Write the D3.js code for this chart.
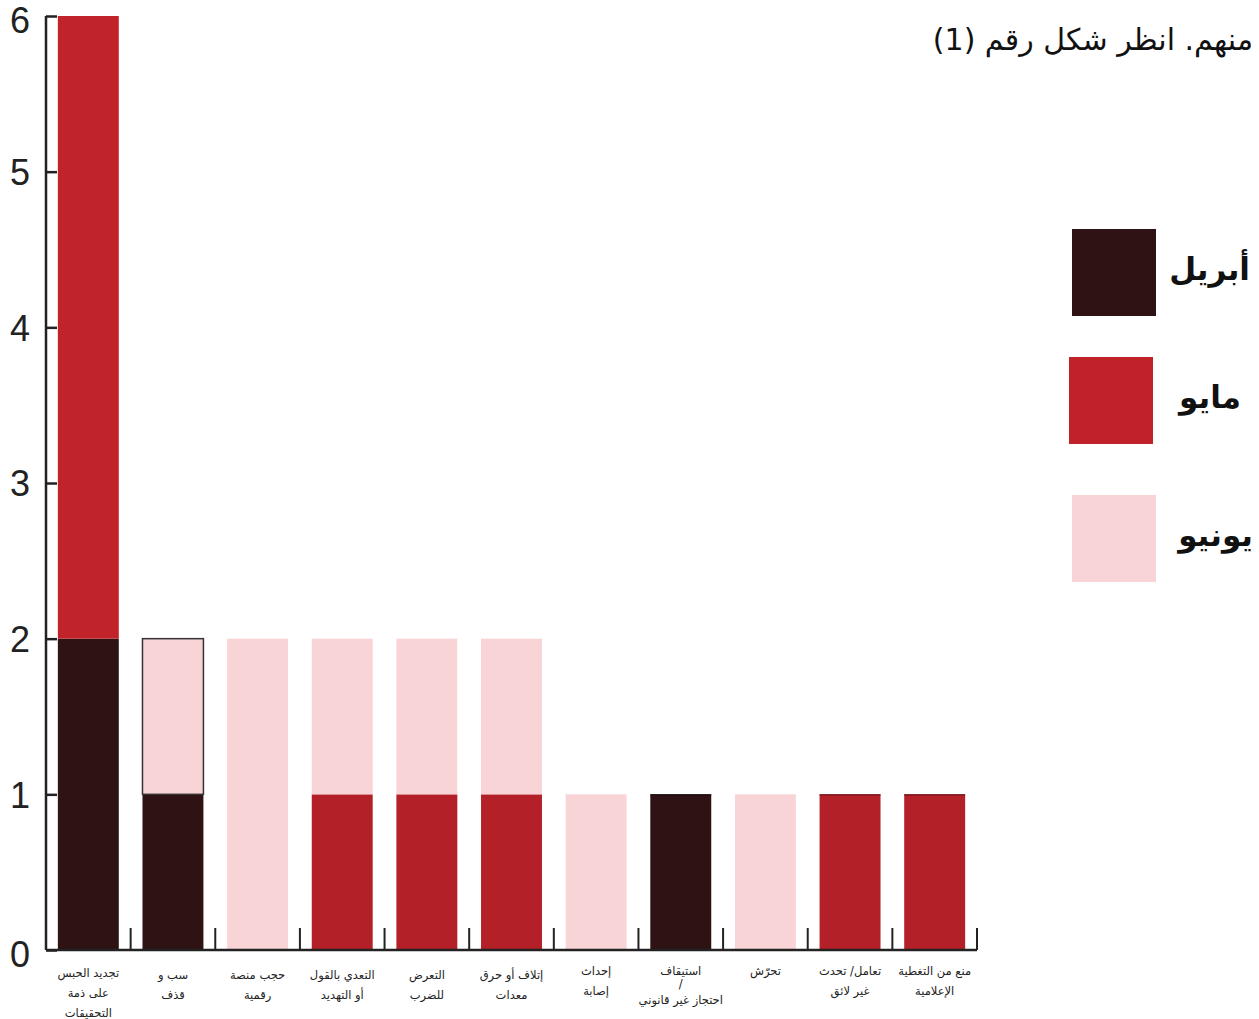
<!DOCTYPE html>
<html>
<head>
<meta charset="utf-8">
<script src="https://cdn.jsdelivr.net/npm/d3@7"></script>
<style>
  html, body { margin: 0; padding: 0; background: #fff; }
  svg { display: block; }
</style>
</head>
<body>
<svg id="chart" width="1259" height="1019"></svg>
<script>
const categories = [
  ["تجديد الحبس", "على ذمة", "التحقيقات"],
  ["سب و", "قذف"],
  ["حجب منصة", "رقمية"],
  ["التعدي بالقول", "أو التهديد"],
  ["التعرض", "للضرب"],
  ["إتلاف أو حرق", "معدات"],
  ["إحداث", "إصابة"],
  ["استيقاف", "/", "احتجاز غير قانوني"],
  ["تحرّش"],
  ["تعامل/ تحدث", "غير لائق"],
  ["منع من التغطية", "الإعلامية"]
];
const seriesNames = ["أبريل", "مايو", "يونيو"];
const april = [2, 1, 0, 0, 0, 0, 0, 1, 0, 0, 0];
const may   = [4, 0, 0, 1, 1, 1, 0, 0, 0, 1, 1];
const june  = [0, 1, 2, 1, 1, 1, 1, 0, 1, 0, 0];
const yTicks = [0, 1, 2, 3, 4, 5, 6];
const titleText = "منهم. انظر شكل رقم (1)";

(function () {
const colors = ["#2e1214", "#b32028", "#f9d4d6"];
const legendColors = ["#2e1214", "#c1222a", "#f9d4d6"];

const svg = d3.select("#chart");
const pLeft = 46, pRight = 977, pTop = 16, pBottom = 950;

const x = d3.scaleBand().domain(d3.range(categories.length)).range([pLeft, pRight])
  .paddingInner(0.28).paddingOuter(0.14);
const y = d3.scaleLinear().domain([0, 6]).range([pBottom, pTop]);

const rows = categories.map((c, i) => ({i, a: april[i], m: may[i], j: june[i]}));
const stack = d3.stack().keys(["a", "m", "j"])(rows);

stack.forEach((layer, si) => {
  svg.append("g").selectAll("rect").data(layer.filter(d => d[1] > d[0])).join("rect")
    .attr("x", d => x(d.data.i))
    .attr("width", x.bandwidth())
    .attr("y", d => y(d[1]))
    .attr("height", d => y(d[0]) - y(d[1]))
    .attr("fill", d => (si === 1 && d.data.i === 0) ? "#c1232a" : colors[si])
    .attr("stroke", d => (si === 2 && d.data.i === 1) ? "#333" : "none")
    .attr("stroke-width", 1.5);
});

// thin darker top edges on single May / April bars
rows.forEach(r => {
  const total = r.a + r.m + r.j;
  if (r.j === 0 && r.i > 0 && total > 0) {
    svg.append("line")
      .attr("x1", x(r.i)).attr("x2", x(r.i) + x.bandwidth())
      .attr("y1", y(total) + 0.5).attr("y2", y(total) + 0.5)
      .attr("stroke", r.m > 0 ? "#6e1418" : "#1a0a0b").attr("stroke-width", 1.2);
  }
});

// Y axis
const yAxis = d3.axisLeft(y).tickValues(yTicks).tickSize(-11).tickPadding(0).tickFormat(d3.format("d"));
const gy = svg.append("g").attr("transform", `translate(${pLeft},0)`).call(yAxis);
gy.select(".domain").attr("d", `M0,${pTop}V${pBottom}`).attr("stroke", "#222").attr("stroke-width", 2.5);
gy.selectAll(".tick line").attr("stroke", "#222").attr("stroke-width", 2.5);
gy.selectAll(".tick text")
  .attr("x", -26).attr("text-anchor", "middle")
  .attr("font-family", "'Liberation Sans', Arial, sans-serif")
  .attr("font-size", 36).attr("fill", "#222")
  .attr("dy", "0.36em")
  .attr("y", d => d === 0 ? 4 : (d === 6 ? 4 : 0));

// X axis baseline and boundary ticks
svg.append("line").attr("x1", pLeft).attr("x2", pRight).attr("y1", pBottom).attr("y2", pBottom)
  .attr("stroke", "#222").attr("stroke-width", 2.5);
const bounds = d3.range(categories.length + 1).map(i => pLeft + i * x.step());
svg.append("g").selectAll("line").data(bounds.slice(1)).join("line")
  .attr("x1", d => d).attr("x2", d => d)
  .attr("y1", pBottom - 22).attr("y2", pBottom)
  .attr("stroke", "#222").attr("stroke-width", 2);

// category labels
const lab = svg.append("g")
  .attr("font-family", "'DejaVu Sans', 'Noto Sans', sans-serif")
  .attr("font-size", 11.5).attr("fill", "#222");
categories.forEach((lines, i) => {
  const cx = x(i) + x.bandwidth() / 2;
  const t = lab.append("text").attr("text-anchor", "middle").attr("direction", "rtl");
  const slash = lines.length === 3 && lines[1] === "/";
  lines.forEach((ln, k) => {
    let yy;
    if (slash) yy = [975, 988, 1004][k];
    else yy = (i === 0 ? 977 : (lines.length === 1 || i >= 6 ? 975 : 979)) + k * 20;
    t.append("tspan").attr("x", cx).attr("y", yy).text(ln);
  });
});

// Title
svg.append("text").attr("x", 1253).attr("y", 50)
  .attr("text-anchor", "start").attr("direction", "rtl")
  .attr("font-family", "'DejaVu Sans', 'Noto Sans', sans-serif")
  .attr("font-size", 30).attr("fill", "#111")
  .text(titleText);

// Legend
const legendBoxes = [{x: 1072, y: 229}, {x: 1069, y: 357}, {x: 1072, y: 495}];
const legendTextX = [1250, 1241, 1253];
seriesNames.forEach((name, i) => {
  svg.append("rect").attr("x", legendBoxes[i].x).attr("y", legendBoxes[i].y)
    .attr("width", 84).attr("height", 87).attr("fill", legendColors[i]);
  svg.append("text").attr("x", legendTextX[i]).attr("y", legendBoxes[i].y + 42)
    .attr("text-anchor", "start").attr("direction", "rtl")
    .attr("dominant-baseline", "middle")
    .attr("font-family", "'DejaVu Sans', 'Noto Sans', sans-serif")
    .attr("font-weight", "bold")
    .attr("font-size", 31).attr("fill", "#111")
    .text(name);
});
})();
</script>
</body>
</html>
